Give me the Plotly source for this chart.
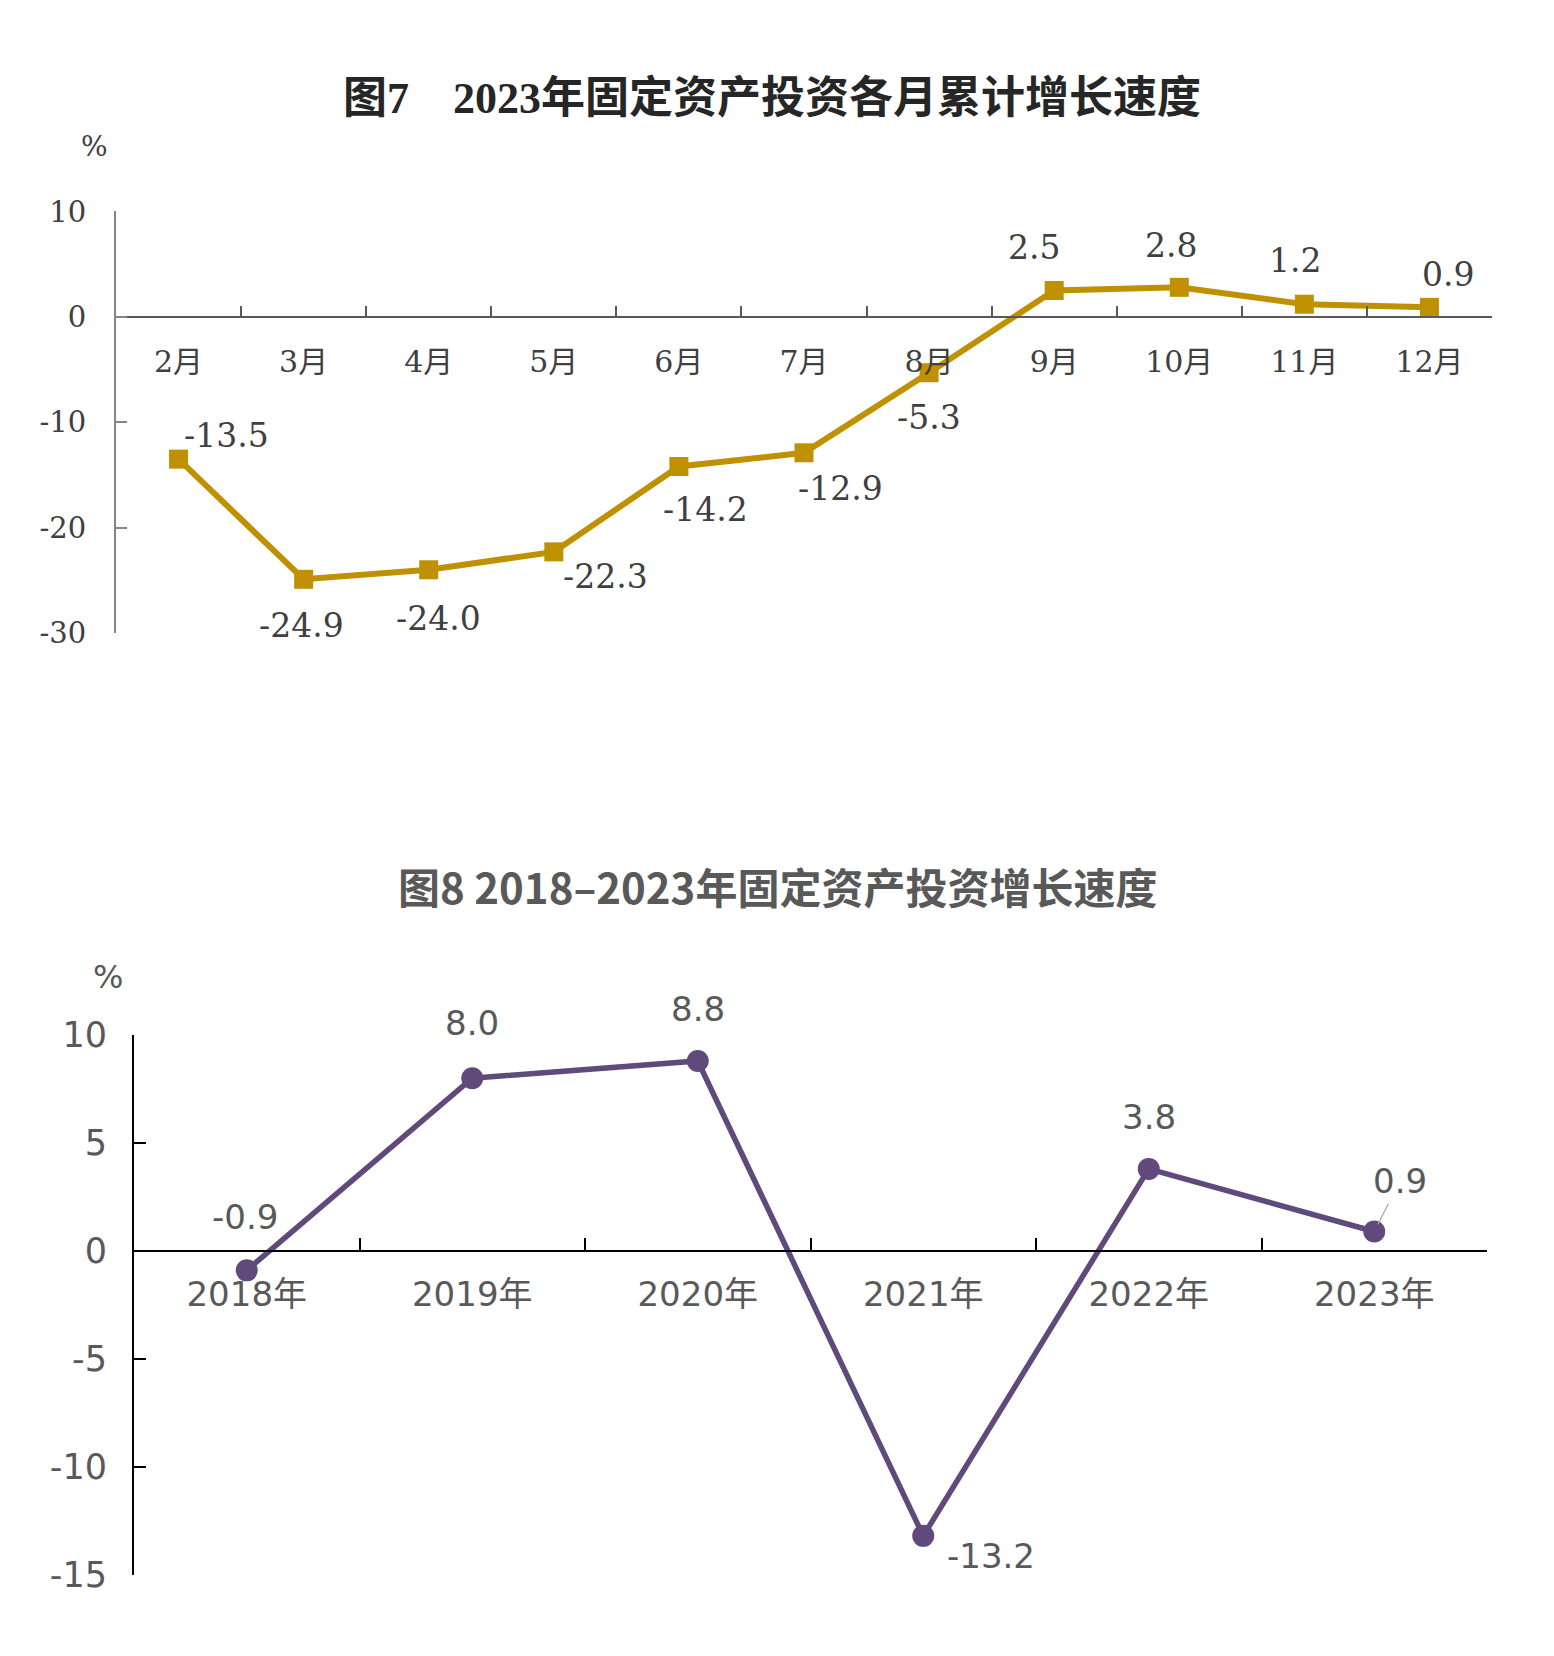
import plotly.graph_objects as go

# ---- data: figure 7 (monthly cumulative growth, 2023) ----
months = ['2月', '3月', '4月', '5月', '6月', '7月', '8月', '9月', '10月', '11月', '12月']
monthly_growth = [-13.5, -24.9, -24.0, -22.3, -14.2, -12.9, -5.3, 2.5, 2.8, 1.2, 0.9]
monthly_ticks = [10, 0, -10, -20, -30]

# ---- data: figure 8 (annual growth, 2018-2023) ----
years = ['2018年', '2019年', '2020年', '2021年', '2022年', '2023年']
annual_growth = [-0.9, 8.0, 8.8, -13.2, 3.8, 0.9]
annual_ticks = [10, 5, 0, -5, -10, -15]

# label offsets in px (dx, dy with dy pointing down)
monthly_offsets = [(48, -24), (-2, 46), (10, 49), (52, 25), (27, 43), (36, 36),
                   (0, 45), (-20, -43), (-8, -42), (-9, -44), (19, -33)]
annual_offsets = [(-2, -53), (0, -55), (0, -52), (68, 20), (0, -52), (26, -51)]

W, H = 1554, 1656
GOLD = '#BF9000'
PURPLE = '#604A7B'
SERIF = 'DejaVu Serif, Noto Sans CJK SC'
TITLE_SERIF = 'Liberation Serif, Noto Sans CJK SC'
SANS = 'DejaVu Sans, Noto Sans CJK SC'


def px_x(p):
    return p / W


def px_y(p):
    return 1 - p / H


def tick_text(vals):
    return [str(v) for v in vals]


fig = go.Figure()

fig.add_trace(go.Scatter(
    x=months, y=monthly_growth, mode='lines+markers',
    line=dict(color=GOLD, width=6),
    marker=dict(symbol='square', size=19, color=GOLD),
    xaxis='x', yaxis='y', hoverinfo='skip'
))

fig.add_trace(go.Scatter(
    x=years, y=annual_growth, mode='lines+markers',
    line=dict(color=PURPLE, width=5.5),
    marker=dict(symbol='circle', size=22, color=PURPLE),
    xaxis='x2', yaxis='y2', hoverinfo='skip'
))

annotations = []

# data labels figure 7
for m, v, (dx, dy) in zip(months, monthly_growth, monthly_offsets):
    annotations.append(dict(
        x=m, y=v, xref='x', yref='y', text=f'{v:.1f}', showarrow=False,
        xshift=dx, yshift=-dy, font=dict(family=SERIF, size=33, color='#404040')
    ))

# data labels figure 8
for i, (yr, v, (dx, dy)) in enumerate(zip(years, annual_growth, annual_offsets)):
    if i == len(years) - 1:
        annotations.append(dict(
            x=yr, y=v, xref='x2', yref='y2', text=f'{v:.1f}', showarrow=True,
            ax=dx, ay=dy, arrowhead=0, arrowwidth=1.2, arrowcolor='#A6A6A6',
            standoff=8, startstandoff=2,
            font=dict(family=SANS, size=34, color='#595959')
        ))
    else:
        annotations.append(dict(
            x=yr, y=v, xref='x2', yref='y2', text=f'{v:.1f}', showarrow=False,
            xshift=dx, yshift=-dy, font=dict(family=SANS, size=34, color='#595959')
        ))

# titles and unit labels
annotations += [
    dict(x=px_x(764), y=px_y(72), xref='paper', yref='paper', showarrow=False,
         xanchor='center', yanchor='middle',
         text='<b>图7　2023年固定资产投资各月累计增长速度</b>',
         font=dict(family=TITLE_SERIF, size=44, color='#262626')),
    dict(x=px_x(86), y=px_y(121), xref='paper', yref='paper', showarrow=False,
         xanchor='center', yanchor='middle',
         text='%', font=dict(family=SERIF, size=28, color='#404040')),
    dict(x=px_x(769), y=px_y(879), xref='paper', yref='paper', showarrow=False,
         xanchor='center', yanchor='middle',
         text='<b>图8 2018–2023年固定资产投资增长速度</b>',
         font=dict(family='Noto Sans CJK SC', size=42, color='#595959')),
    dict(x=px_x(100), y=px_y(972), xref='paper', yref='paper', showarrow=False,
         xanchor='center', yanchor='middle',
         text='%', font=dict(family=SANS, size=32, color='#595959')),
]

# axis domains (page offset of 8px already removed)
y1_dom = [px_y(620), px_y(188)]
y2_dom = [px_y(1585), px_y(1032)]
zero1 = y1_dom[0] + (0 - (-30)) / 40 * (y1_dom[1] - y1_dom[0])
zero2 = y2_dom[0] + (0 - (-15)) / 25 * (y2_dom[1] - y2_dom[0])

fig.update_layout(
    width=W, height=H,
    margin=dict(l=0, r=0, t=0, b=0),
    paper_bgcolor='white', plot_bgcolor='white',
    showlegend=False,
    annotations=annotations,
    xaxis=dict(
        domain=[px_x(108), px_x(1484)], anchor='free', position=zero1,
        type='category', range=[-0.5, len(months) - 0.5],
        showline=True, linecolor='#595959', linewidth=2,
        ticks='inside', ticklen=10, tickwidth=2, tickcolor='#595959',
        tickson='boundaries', showgrid=False, zeroline=False,
        ticklabelstandoff=18,
        tickfont=dict(family=SERIF, size=30, color='#404040'),
    ),
    yaxis=dict(
        domain=y1_dom, anchor='x', range=[-30, 10],
        tickvals=monthly_ticks, ticktext=tick_text(monthly_ticks),
        showline=True, linecolor='#868686', linewidth=2,
        ticks='inside', ticklen=11, tickwidth=2, tickcolor='#868686',
        showgrid=False, zeroline=False, ticklabelstandoff=22,
        tickfont=dict(family=SERIF, size=29, color='#404040'),
    ),
    xaxis2=dict(
        domain=[px_x(126), px_x(1479)], anchor='free', position=zero2,
        type='category', range=[-0.5, len(years) - 0.5],
        showline=True, linecolor='#000000', linewidth=2,
        ticks='inside', ticklen=12, tickwidth=2, tickcolor='#000000',
        tickson='boundaries', showgrid=False, zeroline=False,
        ticklabelstandoff=13,
        tickfont=dict(family=SANS, size=34, color='#595959'),
    ),
    yaxis2=dict(
        domain=y2_dom, anchor='x2', range=[-15, 10],
        tickvals=annual_ticks, ticktext=tick_text(annual_ticks),
        showline=True, linecolor='#000000', linewidth=2,
        ticks='inside', ticklen=12, tickwidth=2, tickcolor='#000000',
        showgrid=False, zeroline=False, ticklabelstandoff=18,
        tickfont=dict(family=SANS, size=35, color='#595959'),
    ),
)

fig.write_html('out.html')
